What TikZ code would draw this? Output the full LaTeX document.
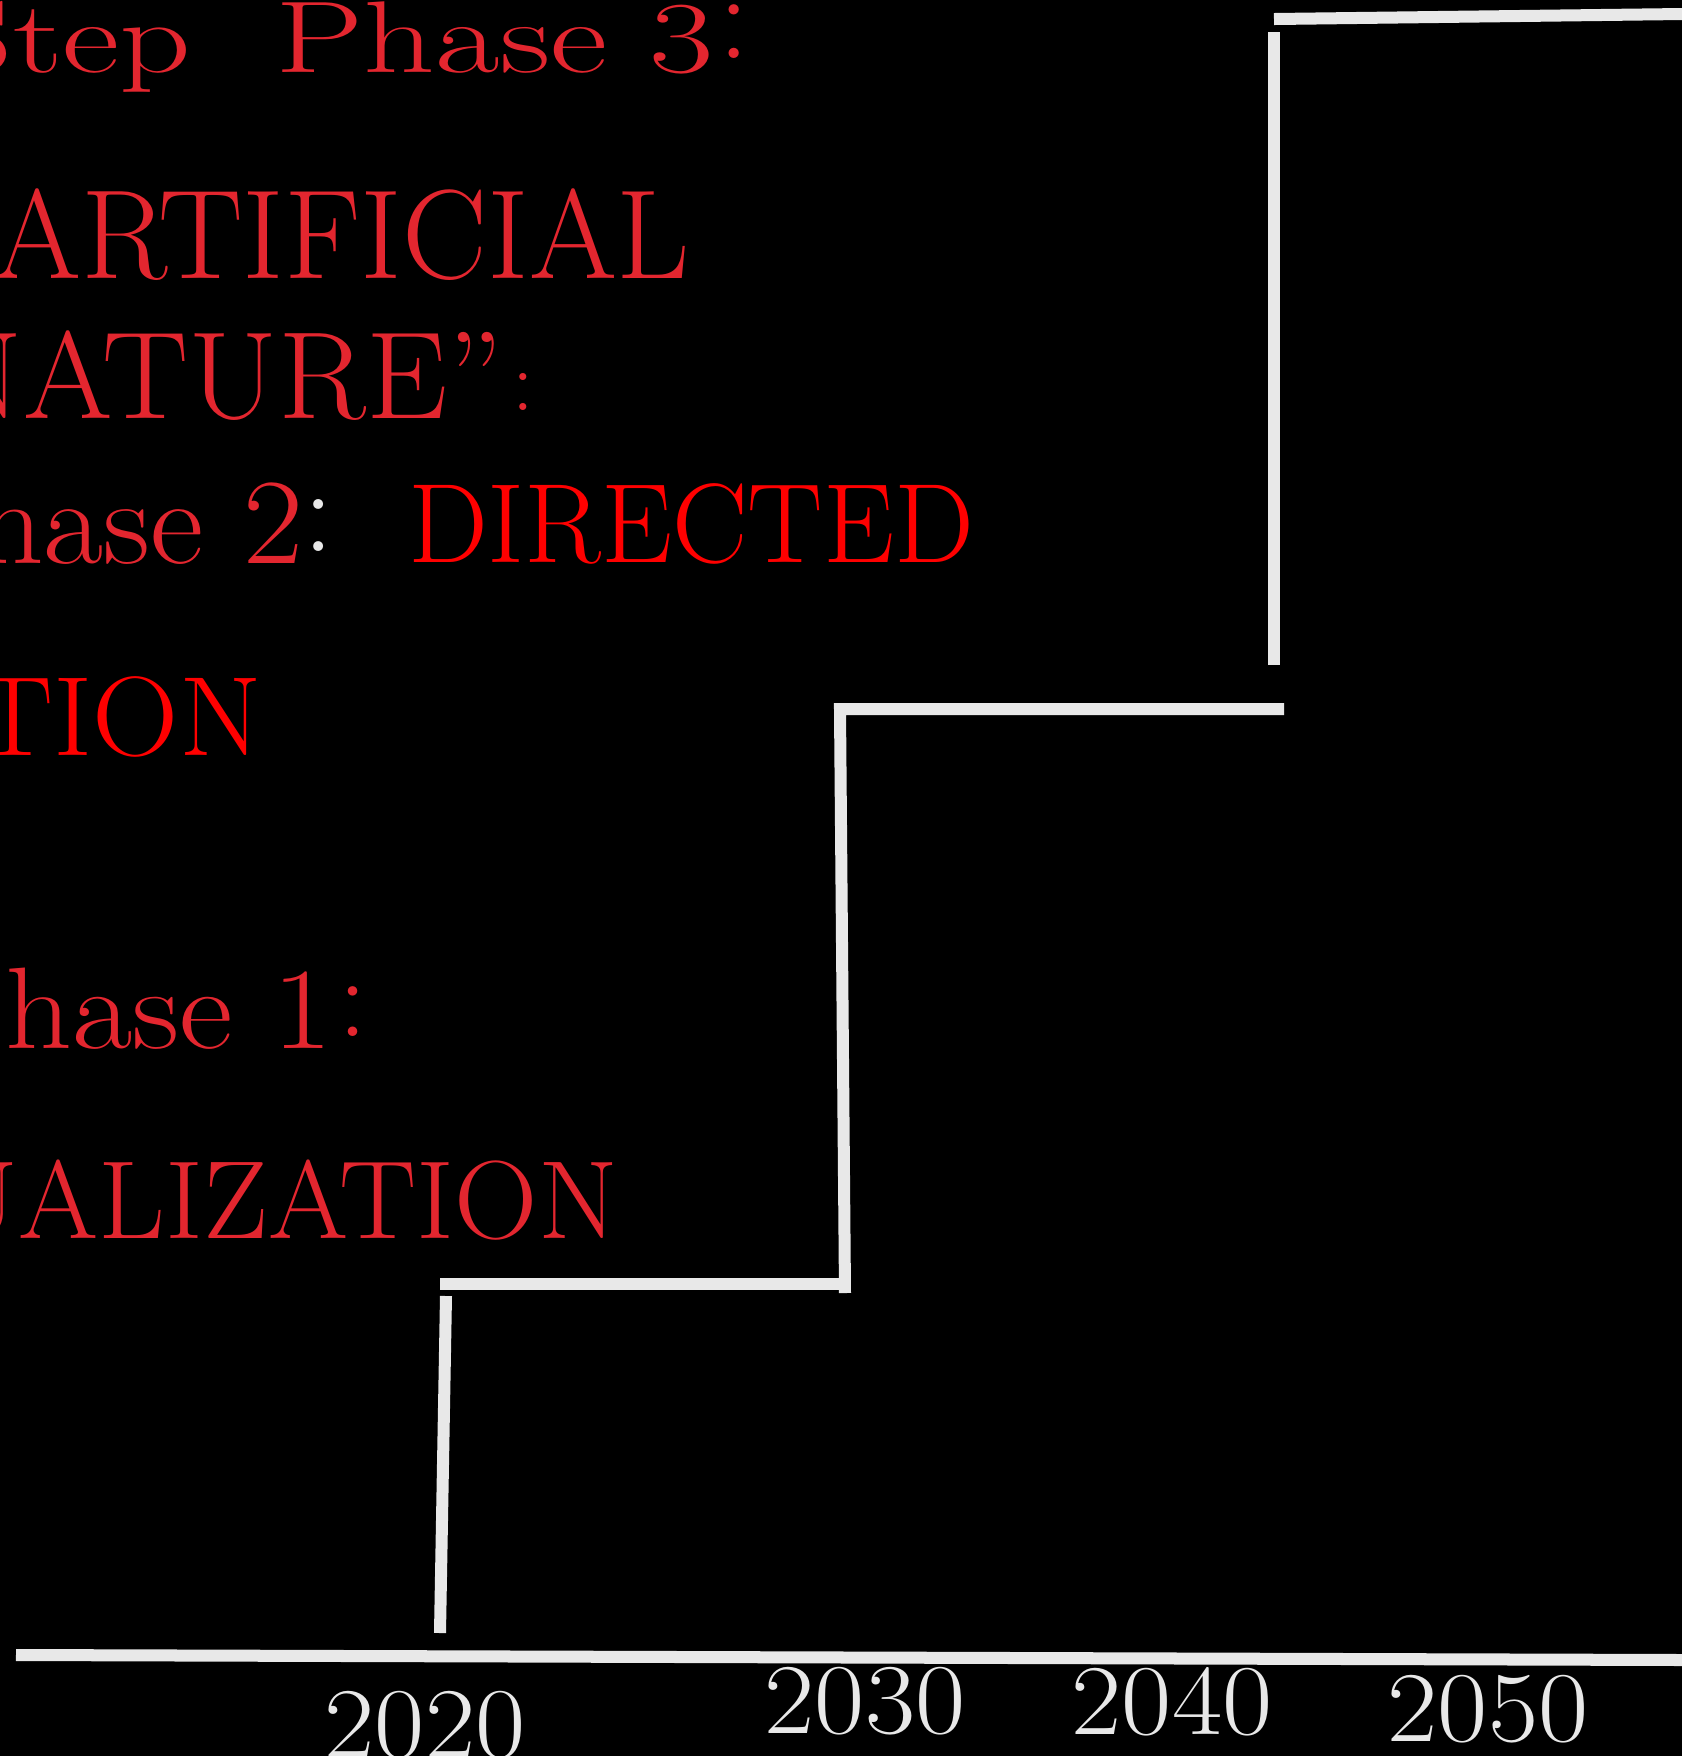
\documentclass[tikz,border=0pt]{standalone}
\usepackage{fontspec}
\usetikzlibrary{positioning}
\definecolor{ink}{HTML}{E8E8E8}
\definecolor{phred}{HTML}{E3262F}
\definecolor{hot}{HTML}{FF0000}
\newcommand{\fsz}[1]{\fontsize{#1pt}{#1pt}\selectfont}
\tikzset{stair/.style={draw=ink,line width=1.2mm},
  tag/.style={inner sep=0pt,outer sep=0pt,text=phred,anchor=base east},
  dots/.style={inner sep=0pt,outer sep=0pt,text=phred,anchor=base west},
  yr/.style={inner sep=0pt,text=ink,anchor=base,font=\fsz{28.5}}}
\begin{document}
\begin{tikzpicture}[x=0.01cm,y=-0.01cm]
\fill[black] (0,0) rectangle (1682,1756);
\useasboundingbox (0,0) rectangle (1682,1756);
\clip (0,0) rectangle (1682,1756);
% staircase
\coordinate (ax0) at (16,1655);
\coordinate (ax1) at (1682,1660);
\coordinate (s1b) at (440,1633);
\coordinate (s1t) at (446,1296);
\coordinate (t1l) at (440,1284);
\coordinate (t1r) at (840,1284);
\coordinate (s2b) at (845,1293);
\coordinate (s2t) at (840,709);
\coordinate (t2r) at (1284,709);
\coordinate (s3b) at (1274,665);
\coordinate (s3t) at (1274,32);
\coordinate (t3l) at (1274,19);
\coordinate (t3r) at (1682,14);
\draw[stair] (ax0) -- (ax1);
\draw[stair] (s1b) -- (s1t);
\draw[stair] (t1l) -- (t1r);
\draw[stair] (s2b) -- (s2t) -- (t2r);
\draw[stair] (s3b) -- (s3t);
\draw[stair] (t3l) -- (t3r);
% years
\foreach \yname/\x/\y in {2020/425/1757,2030/865/1733,2040/1172/1734,2050/1488/1741}{
  \node[yr] (y\yname) at (\x,\y) {\scalebox{1.09}[1]{\yname}};
}
% phase texts
\node[tag,font=\fsz{29}] (p3) at (714,72) {\scalebox{1.375}[1]{Step\ \ Phase 3}};
\node[dots,font=\fsz{35.6}] (p3c) at (718,58) {:};
\node[tag,font=\fsz{36.1}] (art) at (690,278) {\scalebox{1}[1]{ARTIFICIAL}};
\node[tag,font=\fsz{35.3}] (nat) at (503,418) {\scalebox{1.04}[1]{NATURE''}};
\node[dots,font=\fsz{24.5}] (natc) at (512,410) {:};
\node[tag,font=\fsz{34.7}] (p2) at (303,563) {\scalebox{1.07}[1]{Phase 2}};
\node[dots,text=ink,font=\fsz{34.4}] (p2c) at (304,551) {:};
\node[tag,text=hot,anchor=base west,font=\fsz{32.1}] (dir) at (408,562) {\scalebox{1}[1]{DIRECTED}};
\node[tag,text=hot,font=\fsz{32.1}] (tion) at (262,755) {\scalebox{1.06}[1]{TION}};
\node[tag,font=\fsz{33}] (p1) at (333,1048) {\scalebox{1.13}[1]{Phase 1}};
\node[dots,font=\fsz{33}] (p1c) at (338,1036) {:};
\node[tag,font=\fsz{31.6}] (vis) at (618,1238) {\scalebox{1.04}[1]{UALIZATION}};
\end{tikzpicture}
\end{document}
